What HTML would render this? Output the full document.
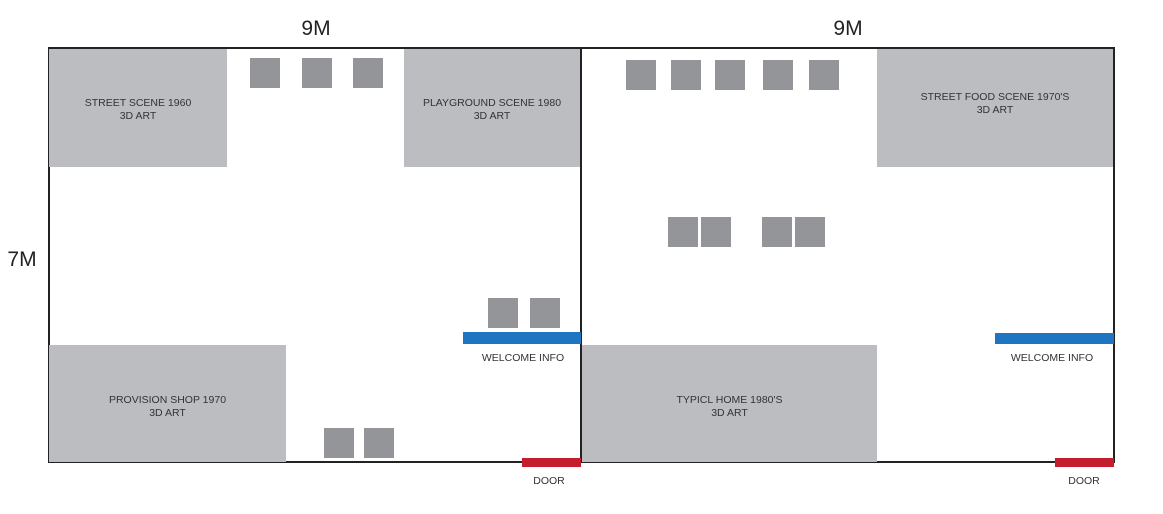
<!DOCTYPE html>
<html><head><style>
body{margin:0;width:1163px;height:514px;background:#fff;position:relative;overflow:hidden;font-family:"Liberation Sans",sans-serif}
div{position:absolute;box-sizing:border-box}
.g{background:#bcbdc0;color:#333;font-size:10.5px;text-align:center;display:flex;flex-direction:column;justify-content:center;line-height:13px}
.s{background:#939598;width:30px;height:30px}
.t{font-size:10.5px;color:#333;transform:translateX(-50%);white-space:nowrap}
.b{background:#1f75bf}
.r{background:#c41e2e}
.l{background:#222}
.big{font-size:21px;color:#222;transform:translateX(-50%)}
</style></head><body>
<div class="l" style="left:48px;top:47px;width:1067px;height:2px"></div>
<div class="l" style="left:48px;top:461px;width:1067px;height:2px"></div>
<div class="l" style="left:48px;top:47px;width:2px;height:416px"></div>
<div class="l" style="left:580px;top:47px;width:2px;height:416px"></div>
<div class="l" style="left:1113px;top:47px;width:2px;height:416px"></div>

<div class="g" style="left:49px;top:49px;width:178px;height:118px;padding-top:4px">STREET SCENE 1960<br>3D ART</div>
<div class="g" style="left:404px;top:49px;width:176px;height:118px;padding-top:4px">PLAYGROUND SCENE 1980<br>3D ART</div>
<div class="g" style="left:49px;top:345px;width:237px;height:117px;padding-top:6px">PROVISION SHOP 1970<br>3D ART</div>
<div class="g" style="left:877px;top:49px;width:236px;height:118px;padding-bottom:8px">STREET FOOD SCENE 1970'S<br>3D ART</div>
<div class="g" style="left:582px;top:345px;width:295px;height:117px;padding-top:6px">TYPICL HOME 1980'S<br>3D ART</div>

<div class="s" style="left:250px;top:58px"></div>
<div class="s" style="left:302px;top:58px"></div>
<div class="s" style="left:353px;top:58px"></div>
<div class="s" style="left:324px;top:428px"></div>
<div class="s" style="left:364px;top:428px"></div>
<div class="s" style="left:488px;top:298px"></div>
<div class="s" style="left:530px;top:298px"></div>
<div class="s" style="left:626px;top:60px"></div>
<div class="s" style="left:671px;top:60px"></div>
<div class="s" style="left:715px;top:60px"></div>
<div class="s" style="left:763px;top:60px"></div>
<div class="s" style="left:809px;top:60px"></div>
<div class="s" style="left:668px;top:217px"></div>
<div class="s" style="left:701px;top:217px"></div>
<div class="s" style="left:762px;top:217px"></div>
<div class="s" style="left:795px;top:217px"></div>

<div class="b" style="left:463px;top:332px;width:118px;height:12px"></div>
<div class="b" style="left:995px;top:333px;width:119px;height:11px"></div>
<div class="t" style="left:523px;top:352px">WELCOME INFO</div>
<div class="t" style="left:1052px;top:352px">WELCOME INFO</div>
<div class="r" style="left:522px;top:458px;width:59px;height:9px"></div>
<div class="r" style="left:1055px;top:458px;width:59px;height:9px"></div>
<div class="t" style="left:549px;top:475px">DOOR</div>
<div class="t" style="left:1084px;top:475px">DOOR</div>

<div class="big" style="left:316px;top:17px">9M</div>
<div class="big" style="left:848px;top:17px">9M</div>
<div class="big" style="left:22px;top:248px">7M</div>
</body></html>
